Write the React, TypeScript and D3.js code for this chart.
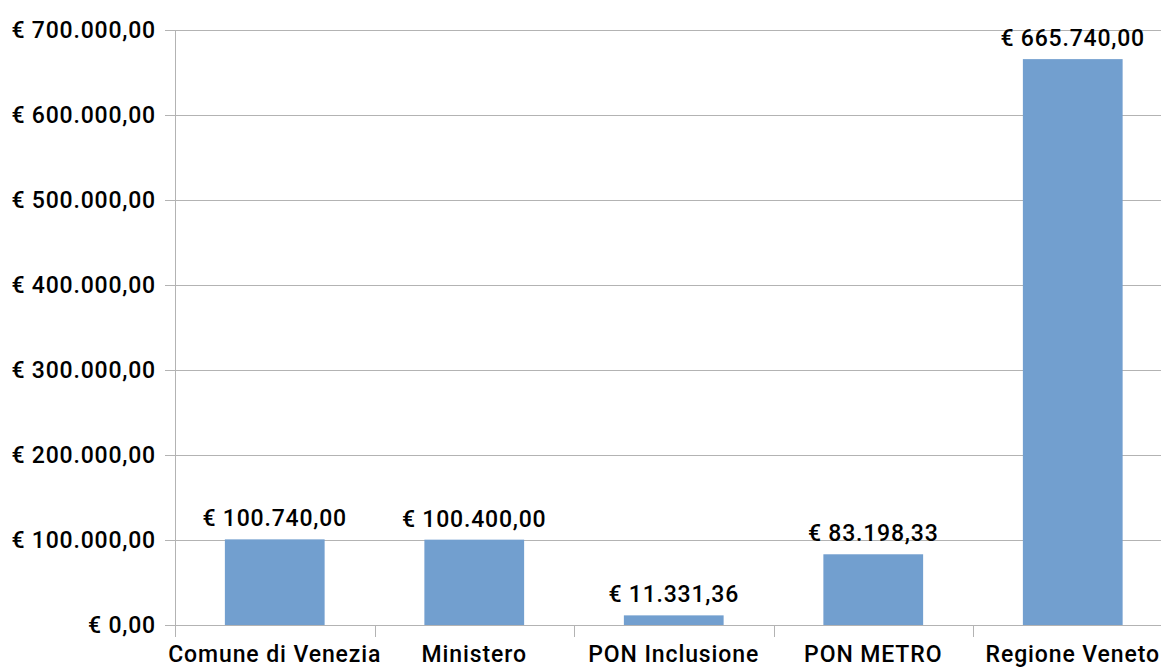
import React, { useEffect, useRef } from 'react';
import * as d3 from 'd3';

const categories = ['Comune di Venezia', 'Ministero', 'PON Inclusione', 'PON METRO', 'Regione Veneto'];
const values = [100740, 100400, 11331.36, 83198.33, 665740];
const yTicks = [0, 100000, 200000, 300000, 400000, 500000, 600000, 700000];

const width = 1161;
const height = 668;
const FONT = 'Roboto, "DejaVu Sans", sans-serif';
const fontStyle = '500 23px ' + FONT;

const itLocale = d3.formatLocale({ decimal: ',', thousands: '.', grouping: [3], currency: ['€ ', ''] });
const euro = itLocale.format('$,.2f');

function Chart() {
  const ref = useRef<SVGSVGElement>(null);

  useEffect(() => {
    const svg = d3.select(ref.current);
    svg.selectAll('*').remove();

    const left = 175;
    const step = 199.5;
    const x = d3.scaleBand<string>()
      .domain(categories)
      .range([left, left + step * categories.length])
      .paddingInner(0.5)
      .paddingOuter(0.25);

    const y = d3.scaleLinear().domain([0, 700000]).range([625, 30]);

    // gridlines
    svg.append('g')
      .selectAll('line')
      .data(yTicks)
      .enter()
      .append('line')
      .attr('x1', left - 10)
      .attr('x2', width)
      .attr('y1', (d) => y(d) + 0.5)
      .attr('y2', (d) => y(d) + 0.5)
      .attr('stroke', '#b3b3b3')
      .attr('stroke-width', 1);

    // y axis line
    svg.append('line')
      .attr('x1', left + 0.5).attr('x2', left + 0.5)
      .attr('y1', y(700000)).attr('y2', y(0) + 12)
      .attr('stroke', '#b3b3b3');

    // x ticks at category boundaries
    const bounds = d3.range(categories.length + 1).map((i) => left + i * step);
    svg.append('g')
      .selectAll('line')
      .data(bounds)
      .enter()
      .append('line')
      .attr('x1', (d) => Math.round(d) + 0.5)
      .attr('x2', (d) => Math.round(d) + 0.5)
      .attr('y1', y(0))
      .attr('y2', y(0) + 12)
      .attr('stroke', '#b3b3b3');

    // y labels
    svg.append('g')
      .selectAll('text')
      .data(yTicks)
      .enter()
      .append('text')
      .attr('x', 156)
      .attr('y', (d) => y(d))
      .attr('dy', '0.35em')
      .attr('text-anchor', 'end')
      .style('font', fontStyle)
      .style('letter-spacing', '0.8px')
      .attr('fill', '#000')
      .text((d) => euro(d));

    // bars
    svg.append('g')
      .selectAll('rect')
      .data(values)
      .enter()
      .append('rect')
      .attr('x', (d, i) => x(categories[i])!)
      .attr('y', (d) => y(d))
      .attr('width', x.bandwidth())
      .attr('height', (d) => y(0) - y(d))
      .attr('fill', '#729fcf');

    // value labels
    svg.append('g')
      .selectAll('text')
      .data(values)
      .enter()
      .append('text')
      .attr('x', (d, i) => x(categories[i])! + x.bandwidth() / 2)
      .attr('y', (d) => y(d) - 13)
      .attr('text-anchor', 'middle')
      .style('font', fontStyle)
      .style('letter-spacing', '0.8px')
      .attr('fill', '#000')
      .text((d) => euro(d));

    // category labels
    svg.append('g')
      .selectAll('text')
      .data(categories)
      .enter()
      .append('text')
      .attr('x', (d) => x(d)! + x.bandwidth() / 2)
      .attr('y', 662)
      .attr('text-anchor', 'middle')
      .style('font', fontStyle)
      .style('letter-spacing', '0.9px')
      .attr('fill', '#000')
      .text((d) => d);
  }, []);

  return <svg ref={ref} width={width} height={height} style={{ display: 'block' }} />;
}

export default function App() {
  return (
    <div style={{ position: 'absolute', left: 0, top: 0, width, height, background: '#fff' }}>
      <Chart />
    </div>
  );
}
